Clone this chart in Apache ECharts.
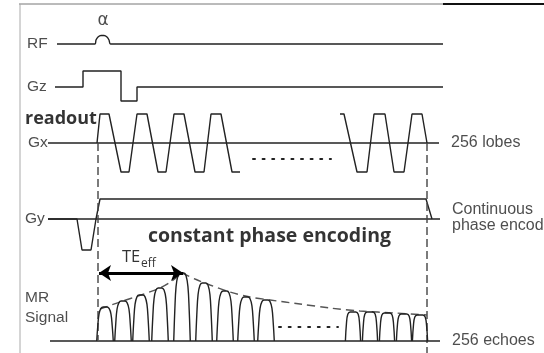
<!DOCTYPE html>
<html><head><meta charset="utf-8">
<script src="https://cdn.jsdelivr.net/npm/echarts@6/dist/echarts.min.js"></script>
<style>html,body{margin:0;padding:0;background:#fff}#c{width:544px;height:353px}</style>
</head><body><div id="c"></div>
<script>
// ---- diagram data (in picture coordinates: x to the right, y downward) ----
const frameTop = [[19,4],[443,4]];
const frameTopRight = [[443,4],[544,4]];
const frameLeft = [[20,4],[20,353]];
const rfTrace = [[57,44],[95,44],[96,40],[98,37],[101,35.5],[104,35.5],[107,37],[109,40],[110.5,44],[443,44]];
const gzTrace = [[55,87],[83,87],[83,71],[121,71],[121,101],[137,101],[137,87],[443,87]];
const gxBaseline = [[48,143],[439,143]];
const gxLobesLeft = [[97,143],[100,114],[109,114],[121,172],[129,172],[137,114],[147,114],[158,172],[166,172],[174,114],[184,114],[195,172],[204,172],[211,114],[221,114],[232,172],[240,172]];
const gxLobesRight = [[340,114],[344,114],[357,172],[367,172],[374,114],[385,114],[394,172],[404,172],[412,114],[422,114],[427,143]];
const gxDots = [[253,159],[331,159]];
const gyBaseline = [[48,219],[440,219]];
const gyTrace = [[48,219],[77,219],[82,250],[91,250],[96,219],[100,199],[426,199],[432,219]];
const dashLeft = [[98,143],[98,340]];
const dashRight = [[427,143],[427,353]];
const signalBaseline = [[50,341],[440,341]];
const echoCentersLeft = [105,123,141,160,182,204,225,246,266];
const echoPeaksLeft = [307,301,295,288,273,283,291,297,300];
const echoCentersRight = [353,370,387,404,420];
const echoPeaksRight = [312,312,313,314,315];
const envelopeRise = [[100,309],[120,302],[141,295],[160,288],[172,281],[182,273]];
const envelopeDecay = [[182,273],[195,279],[210,285],[230,292],[250,297],[270,300],[300,304],[330,308],[360,311],[395,313],[427,315]];
const signalDots = [[279,327],[338,327]];
const teArrow = [[99,273],[183,273]];
const axisLabels = [['RF',27,44],['Gz',27,87],['Gx',28,143],['Gy',25,219],['MR',25,298],['Signal',25,318]];
const noteLabels = [['256 lobes',451,143],['Continuous',452,210],['phase encoding',452,226],['256 echoes',452,341]];
const boldLabels = [['readout',25,119],['constant phase encoding',148,236]];
const alphaLabel = [['α',103,21]];
const teLabel = [['TE',122,257]];
const teSubLabel = [['eff',141,264]];

const baseY = 341;
const INK = '#222';

function lobe(c, peak, w, prof) {
  return prof.map(p => [c + p[0]*w, baseY - (baseY - peak)*p[1]]);
}
const profLeft = [[-0.92,0],[-0.8,0.45],[-0.66,0.8],[-0.45,0.96],[-0.2,1],[0.2,1],[0.45,0.96],[0.66,0.8],[0.8,0.45],[0.92,0]];
const profRight = [[-0.95,0],[-0.82,0.6],[-0.65,0.92],[-0.35,1],[0.35,1],[0.65,0.92],[0.82,0.6],[0.95,0]];

function line(data, extra) {
  return Object.assign({type:'line', data, symbol:'none', silent:true,
    lineStyle:{color:INK, width:1.4}}, extra||{});
}
function textSeries(data, label) {
  return {type:'scatter', data, symbolSize:0, silent:true,
    label:Object.assign({show:true, position:'right', distance:0,
      formatter: p => p.data[2]}, label)};
}

const series = [
  line(frameTop, {lineStyle:{color:'#777', width:1}}),
  line(frameTopRight, {lineStyle:{color:'#111', width:2}}),
  line(frameLeft, {lineStyle:{color:'#aaa', width:1}}),
  line(rfTrace, {smooth:0.3}),
  line(gzTrace),
  line(gxBaseline),
  line(gxLobesLeft),
  line(gxLobesRight),
  line(gxDots, {lineStyle:{color:INK, width:2, type:[2,7.6], cap:'round'}}),
  line(gyBaseline),
  line(gyTrace),
  line(dashLeft, {lineStyle:{color:'#444', width:1.4, type:[8,4]}}),
  line(dashRight, {lineStyle:{color:'#444', width:1.4, type:[8,4]}}),
  line(signalBaseline),
  line(envelopeRise, {smooth:0.3, lineStyle:{color:'#555', width:1.4, type:[8,5]}}),
  line(envelopeDecay, {smooth:0.3, lineStyle:{color:'#555', width:1.4, type:[8,5]}}),
  line(signalDots, {lineStyle:{color:INK, width:2, type:[2,7.7], cap:'round'}})
];
echoCentersLeft.forEach((c,i) => series.push(line(lobe(c, echoPeaksLeft[i], 9, profLeft), {smooth:0.4})));
echoCentersRight.forEach((c,i) => series.push(line(lobe(c, echoPeaksRight[i], 8, profRight), {smooth:0.4})));
series.push(line(teArrow, {lineStyle:{opacity:0}, markLine:{silent:true, symbol:['arrow','arrow'], symbolSize:[12,12],
  label:{show:false}, lineStyle:{color:'#000', width:3, type:'solid'},
  data:[[{coord:teArrow[0]},{coord:teArrow[1]}]]}}));

const xy = a => [a[1], a[2], a[0]];
series.push(textSeries(axisLabels.map(xy), {fontFamily:'Liberation Sans', fontSize:15.5, color:'#222'}));
series.push(textSeries(noteLabels.map(xy), {fontFamily:'Liberation Sans', fontSize:16, color:'#222'}));
series.push(textSeries(boldLabels.slice(0,1).map(xy), {fontFamily:'Open Sans', fontWeight:'bold', fontSize:18, color:'#000'}));
series.push(textSeries(boldLabels.slice(1).map(xy), {fontFamily:'Open Sans', fontWeight:'bold', fontSize:19.5, color:'#000'}));
series.push(textSeries(alphaLabel.map(xy), {position:'inside', fontFamily:'DejaVu Sans', fontSize:17, color:'#222'}));
series.push(textSeries(teLabel.map(xy), {fontFamily:'Open Sans', fontSize:16.5, color:'#000'}));
series.push(textSeries(teSubLabel.map(xy), {fontFamily:'Open Sans', fontSize:12, color:'#000'}));

const chart = echarts.init(document.getElementById('c'), null, {renderer:'canvas'});
chart.setOption({
  animation:false,
  backgroundColor:'#fff',
  grid:{left:0, right:0, top:0, bottom:0},
  xAxis:{type:'value', min:0, max:544, show:false},
  yAxis:{type:'value', min:0, max:353, inverse:true, show:false},
  series
});
</script></body></html>
